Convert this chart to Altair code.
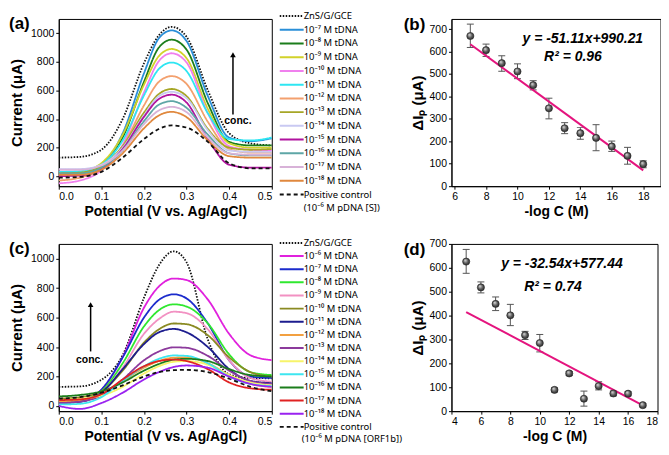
import altair as alt
import pandas as pd

FONT = "Liberation Sans"
LEGEND_FONT = "Noto Sans"

# ---------------- Panel (a): DPV curves, S gene ----------------
potential_a = [0.0, 0.05, 0.1, 0.15, 0.2, 0.235, 0.265, 0.3, 0.35, 0.4, 0.45, 0.5]
series_a = ["ZnS/G/GCE", "10⁻⁷ M tDNA", "10⁻⁸ M tDNA", "10⁻⁹ M tDNA", "10⁻¹⁰ M tDNA",
            "10⁻¹¹ M tDNA", "10⁻¹² M tDNA", "10⁻¹³ M tDNA", "10⁻¹⁴ M tDNA", "10⁻¹⁵ M tDNA",
            "10⁻¹⁶ M tDNA", "10⁻¹⁷ M tDNA", "10⁻¹⁸ M tDNA", "Positive control"]
colors_a = ["#111111", "#2a8fd8", "#1b7d1b", "#d2d22a", "#f080ee", "#2ee6f2", "#f3a06e",
            "#a6a626", "#c9c9f2", "#b0139e", "#5ea6a6", "#d8b2d8", "#e0883e", "#111111"]
dash_a = [[1.5, 1.5]] + [[1, 0]] * 12 + [[4, 3]]
a_zns = [130, 135, 185, 400, 790, 985, 1045, 975, 600, 300, 230, 215]
a_m7 = [20, 25, 80, 300, 720, 965, 1020, 945, 560, 270, 245, 265]
a_m8 = [15, 20, 70, 270, 660, 900, 955, 885, 510, 240, 215, 215]
a_m9 = [10, 30, 90, 290, 640, 840, 890, 825, 470, 230, 200, 200]
a_m10 = [-50, -30, 40, 220, 585, 805, 860, 795, 440, 210, 185, 180]
a_m11 = [30, 35, 80, 250, 565, 750, 795, 735, 440, 260, 250, 270]
a_m12 = [-30, -10, 50, 210, 495, 660, 700, 645, 380, 190, 165, 165]
a_m13 = [20, 25, 70, 210, 445, 575, 610, 560, 330, 200, 185, 190]
a_m14 = [50, 50, 80, 200, 425, 560, 590, 545, 320, 180, 170, 170]
a_m15 = [0, 5, 50, 190, 415, 540, 570, 515, 260, 80, 60, 60]
a_m16 = [20, 20, 60, 180, 385, 500, 525, 478, 290, 160, 145, 145]
a_m17 = [45, 45, 75, 180, 365, 460, 485, 448, 270, 160, 150, 150]
a_m18 = [10, 10, 45, 160, 335, 425, 450, 413, 250, 140, 130, 130]
a_pos = [-10, -5, 30, 130, 260, 330, 355, 340, 240, 90, 55, 55]
curves_a = [a_zns, a_m7, a_m8, a_m9, a_m10, a_m11, a_m12, a_m13, a_m14, a_m15,
            a_m16, a_m17, a_m18, a_pos]

# ---------------- Panel (c): DPV curves, ORF1b gene ----------------
potential_c = [0.0, 0.05, 0.1, 0.15, 0.2, 0.235, 0.27, 0.3, 0.35, 0.4, 0.45, 0.5]
series_c = ["ZnS/G/GCE", "10⁻⁶ M tDNA", "10⁻⁷ M tDNA", "10⁻⁸ M tDNA", "10⁻⁹ M tDNA",
            "10⁻¹⁰ M tDNA", "10⁻¹¹ M tDNA", "10⁻¹² M tDNA", "10⁻¹³ M tDNA", "10⁻¹⁴ M tDNA",
            "10⁻¹⁵ M tDNA", "10⁻¹⁶ M tDNA", "10⁻¹⁷ M tDNA", "10⁻¹⁸ M tDNA", "Positive control"]
colors_c = ["#111111", "#e021dd", "#1b2bcc", "#2fe82f", "#f291c2", "#8a8a22", "#1c1c8e",
            "#f2a040", "#8c3a9c", "#f7f46a", "#3ee6f0", "#1b7d1b", "#e02222", "#9a22f0", "#111111"]
dash_c = [[1.5, 1.5]] + [[1, 0]] * 13 + [[4, 3]]
c_zns = [130, 133, 178, 345, 735, 955, 1050, 975, 450, 215, 190, 188]
c_m6 = [45, 33, 110, 333, 667, 811, 865, 855, 722, 489, 344, 311]
c_m7 = [30, 30, 110, 330, 600, 720, 758, 730, 560, 310, 200, 190]
c_m8 = [30, 40, 100, 290, 540, 650, 690, 675, 560, 350, 230, 210]
c_m9 = [20, 30, 90, 260, 490, 590, 640, 630, 520, 310, 190, 165]
c_m10 = [50, 60, 100, 240, 430, 520, 560, 555, 480, 330, 230, 200]
c_m11 = [20, 30, 90, 250, 420, 500, 523, 500, 400, 250, 170, 155]
c_m12 = [30, 40, 80, 170, 260, 305, 328, 330, 290, 210, 150, 130]
c_m13 = [20, 30, 70, 180, 310, 370, 398, 395, 340, 240, 170, 150]
c_m14 = [40, 50, 70, 130, 220, 270, 300, 305, 280, 210, 160, 140]
c_m15 = [10, 15, 60, 170, 270, 320, 343, 340, 290, 200, 150, 135]
c_m16 = [65, 75, 100, 160, 240, 285, 315, 320, 305, 250, 210, 200]
c_m17 = [40, 45, 80, 180, 270, 305, 315, 305, 250, 160, 120, 110]
c_m18 = [0, -20, 20, 90, 180, 230, 265, 275, 260, 200, 150, 130]
c_pos = [50, 60, 90, 140, 200, 230, 243, 245, 230, 185, 130, 100]
curves_c = [c_zns, c_m6, c_m7, c_m8, c_m9, c_m10, c_m11, c_m12, c_m13, c_m14,
            c_m15, c_m16, c_m17, c_m18, c_pos]

# ---------------- Panel (b): calibration, S gene ----------------
logc_b = [7, 8, 9, 10, 11, 12, 13, 14, 15, 16, 17, 18]
dip_b = [669, 606, 548, 511, 450, 347, 258, 236, 215, 177, 135, 98]
lo_b = [618, 578, 512, 479, 429, 300, 234, 209, 158, 155, 98, 82]
hi_b = [722, 633, 581, 545, 470, 392, 283, 262, 274, 201, 173, 113]
fit_x_b = [7, 18]
slope_b, intercept_b = -51.11, 990.21

# ---------------- Panel (d): calibration, ORF1b gene ----------------
logc_d = [5, 6, 7, 8, 9, 10, 11, 12, 13, 14, 15, 16, 17]
dip_d = [626, 518, 449, 401, 318, 285, 89, 158, 52, 105, 74, 73, 25]
lo_d = [577, 495, 421, 358, 300, 248, 81, 149, 21, 89, 64, 64, 18]
hi_d = [677, 541, 478, 447, 334, 321, 97, 166, 84, 123, 84, 81, 32]
fit_x_d = [5, 17]
slope_d, intercept_d = -32.54, 577.44

W1, W2b, W2d, H = 214, 210, 207, 168


def one_row():
    return pd.DataFrame({"k": [0]})


def text_at(txt, x, y, size=10, weight="normal", style="normal", align="left", font=FONT):
    return alt.Chart(pd.DataFrame({"t": [txt]})).mark_text(
        font=font, fontSize=size, fontWeight=weight, fontStyle=style, align=align,
        baseline="middle", color="black"
    ).encode(text="t:N", x=alt.value(x), y=alt.value(y))


def arrow(x, y_tail, y_tip):
    base = alt.Chart(one_row())
    shaft = base.mark_rule(color="black", strokeWidth=1.5).encode(
        x=alt.value(x), y=alt.value(y_tail), y2=alt.value(y_tip + 4))
    head = base.mark_point(shape="triangle-up", filled=True, color="black",
                           size=32, opacity=1).encode(x=alt.value(x), y=alt.value(y_tip + 3))
    return shaft + head


def cv_panel(xs, names, colors, dashes, curves, ydom, label, legend_y, row_pad,
             arrow_spec, conc_xy, ctrl_text, ctrl_xy, width):
    rows = []
    for name, ys in zip(names, curves):
        for x, y in zip(xs, ys):
            rows.append({"V": x, "I": y, "series": name})
    df = pd.DataFrame(rows)
    leg = alt.Legend(title=None, orient="none", legendX=228, legendY=legend_y,
                     symbolType="M-2.4,0H2.4", symbolSize=100, symbolStrokeWidth=2,
                     labelFont=LEGEND_FONT, labelFontSize=9.5, labelOffset=6,
                     labelColor="black", rowPadding=row_pad, padding=0, labelLimit=300)
    lines = alt.Chart(df).mark_line(interpolate="monotone", strokeWidth=1.8, clip=True).encode(
        x=alt.X("V:Q", scale=alt.Scale(domain=[0, 0.5], nice=False),
                axis=alt.Axis(values=[0, 0.1, 0.2, 0.3, 0.4, 0.5], format=".1f",
                              title="Potential (V vs. Ag/AgCl)", titlePadding=3)),
        y=alt.Y("I:Q", scale=alt.Scale(domain=ydom, nice=False, zero=False),
                axis=alt.Axis(values=[0, 200, 400, 600, 800, 1000], format="d",
                              title="Current (μA)", titleFontSize=15, titlePadding=6)),
        color=alt.Color("series:N", scale=alt.Scale(domain=names, range=colors), legend=leg),
        strokeDash=alt.StrokeDash("series:N", scale=alt.Scale(domain=names, range=dashes),
                                  legend=leg),
    )
    layers = [lines,
              arrow(*arrow_spec),
              text_at("conc.", conc_xy[0], conc_xy[1], size=10.5, weight="bold", align="center"),
              text_at(label, -50, 5, size=17, weight="bold"),
              text_at(ctrl_text, ctrl_xy[0], ctrl_xy[1], size=9.5, font=LEGEND_FONT)]
    return alt.layer(*layers).properties(width=width, height=H)


def cal_panel(xs, ys, lo, hi, fit_x, slope, intercept, xdom, xvals, ydom, label, eq, r2,
              eq_xy, r2_xy, width):
    df = pd.DataFrame({"x": xs, "y": ys, "lo": lo, "hi": hi})
    xscale = alt.Scale(domain=xdom, nice=False)
    yscale = alt.Scale(domain=ydom, nice=False)
    xaxis = alt.Axis(values=xvals, title="-log C (M)", titlePadding=3)
    yaxis = alt.Axis(values=[0, 100, 200, 300, 400, 500, 600, 700], format="d",
                     title="ΔIₚ (μA)", titleFontSize=15, titlePadding=4)
    X = alt.X("x:Q", scale=xscale, axis=xaxis)
    Y = alt.Y("y:Q", scale=yscale, axis=yaxis)
    YLO = alt.Y("lo:Q", scale=yscale, axis=yaxis)
    YHI = alt.Y("hi:Q", scale=yscale, axis=yaxis)
    base = alt.Chart(df)
    bars = base.mark_rule(color="#555555", strokeWidth=1).encode(x=X, y=YLO, y2="hi:Q")
    cap_lo = base.mark_tick(orient="horizontal", size=7, thickness=1, color="#555555",
                            opacity=1).encode(x=X, y=YLO)
    cap_hi = base.mark_tick(orient="horizontal", size=7, thickness=1, color="#555555",
                            opacity=1).encode(x=X, y=YHI)
    fit = alt.Chart(pd.DataFrame({"x": fit_x})).transform_calculate(
        y=f"{slope} * datum.x + {intercept}"
    ).mark_line(color="#e4147e", strokeWidth=2).encode(x=X, y=Y)
    grad = alt.RadialGradient(
        gradient="radial",
        stops=[alt.GradientStop(color="#e6e6e6", offset=0),
               alt.GradientStop(color="#5a5a5a", offset=0.55),
               alt.GradientStop(color="#1e1e1e", offset=1)],
        x1=0.35, y1=0.3, r1=0, x2=0.5, y2=0.5, r2=0.6)
    pts = base.mark_point(shape="circle", filled=True, fill=grad, stroke="#222222",
                          strokeWidth=0.6, size=52, opacity=1).encode(x=X, y=Y)
    layers = [bars, cap_lo, cap_hi, fit, pts,
              text_at(eq, eq_xy[0], eq_xy[1], size=14, weight="bold", style="italic",
                      align="center"),
              text_at(r2, r2_xy[0], r2_xy[1], size=14, weight="bold", style="italic",
                      align="center"),
              text_at(label, -48, 6, size=17, weight="bold")]
    return alt.layer(*layers).properties(width=width, height=H)


panel_a = cv_panel(potential_a, series_a, colors_a, dash_a, curves_a, [-70, 1100], "(a)",
                   -9, 2.8, (175, 96, 33), (180, 103), "(10⁻⁶ M pDNA [S])", (246, 190), W1)
panel_c = cv_panel(potential_c, series_c, colors_c, dash_c, curves_c, [-35, 1100], "(c)",
                   -7, 2.2, (32, 108, 58), (31, 117), "(10⁻⁶ M pDNA [ORF1b])", (244, 196), W1)
panel_b = cal_panel(logc_b, dip_b, lo_b, hi_b, fit_x_b, slope_b, intercept_b, [5.8, 19.1],
                    [6, 8, 10, 12, 14, 16, 18], [0, 745], "(b)", "y = -51.11x+990.21",
                    "R² = 0.96", (132, 20), (122, 38), W2b)
panel_d = cal_panel(logc_d, dip_d, lo_d, hi_d, fit_x_d, slope_d, intercept_d, [4, 18],
                    [4, 6, 8, 10, 12, 14, 16, 18], [0, 700], "(d)", "y = -32.54x+577.44",
                    "R² = 0.74", (111, 20), (102, 43), W2d)

chart = alt.concat(
    panel_a, panel_b, panel_c, panel_d,
    columns=2, spacing={"row": 58, "column": 180.5}, bounds="flush", align="all"
).resolve_scale(
    color="independent", strokeDash="independent"
).properties(
    padding=0
).configure_view(
    stroke="black", strokeWidth=1
).configure_axis(
    labelFont=FONT, labelFontSize=10.5, labelColor="black", labelPadding=2,
    titleFont=FONT, titleFontSize=14, titleFontWeight="bold", titleColor="black",
    domainColor="black", domainWidth=1, tickColor="black", tickSize=3, grid=False
)

chart.save("out.html", embed_options={"renderer": "svg", "actions": False})
